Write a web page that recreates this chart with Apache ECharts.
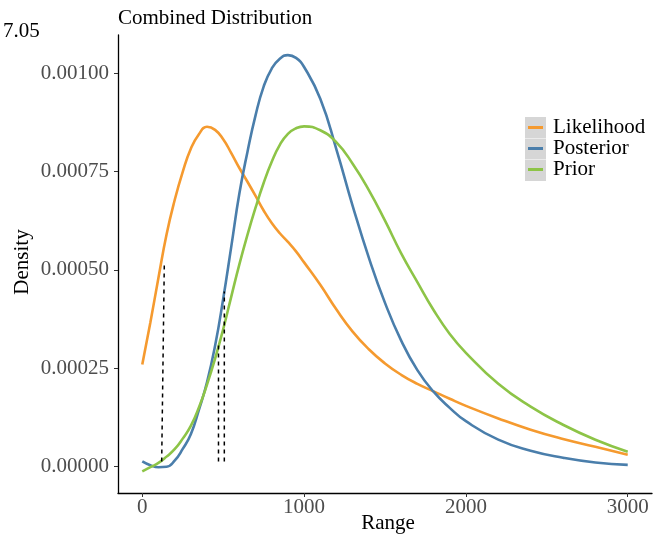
<!DOCTYPE html>
<html>
<head>
<meta charset="utf-8">
<script src="https://cdn.jsdelivr.net/npm/echarts@6/dist/echarts.min.js"></script>
<style>html,body{margin:0;padding:0;background:#fff}#c{width:667px;height:538px}</style>
</head>
<body>
<div id="c"></div>
<script>
const xs = [0,50,100,150,200,250,300,350,400,450,500,550,600,650,700,750,800,850,900,950,1000,
  1100,1200,1300,1400,1500,1600,1700,1800,1900,2000,2200,2400,2600,2800,3000];
const likelihood = [0.000259,0.000366,0.000480,0.000590,0.000677,0.000749,0.000808,0.000845,0.000864,0.000856,0.000832,0.000797,0.000759,0.000724,0.000688,0.000651,0.000619,0.000593,0.000571,0.000547,0.000519,
  0.000462,0.000399,0.000343,0.000298,0.000262,0.000233,0.000210,0.000191,0.000172,0.000154,0.000122,0.0000933,0.0000697,0.0000501,0.0000297];
const posterior = [0.0000127,0.000003,-0.000002,-0.000001,0.0000145,0.0000445,0.0000818,0.000144,0.000214,0.000307,0.000426,0.000559,0.000694,0.000800,0.000893,0.000966,0.001012,0.001037,0.001046,0.001039,0.001016,
  0.000935,0.000806,0.000663,0.000531,0.000416,0.000320,0.000245,0.000190,0.000149,0.000115,0.0000680,0.0000399,0.0000221,0.000010,0.000004];
const prior = [-0.0000127,-0.000002,0.0000089,0.0000249,0.0000437,0.0000707,0.000103,0.000150,0.000208,0.000274,0.000349,0.000432,0.000514,0.000589,0.000658,0.000721,0.000775,0.000818,0.000846,0.000860,0.000865,
  0.000855,0.000824,0.000770,0.000703,0.000625,0.000542,0.000469,0.000398,0.000337,0.000289,0.000210,0.000152,0.000106,0.0000679,0.0000374];
const seriesNames = ['Likelihood','Posterior','Prior'];
const xTicks = [0,1000,2000,3000];
const yTicks = [0,0.00025,0.0005,0.00075,0.001];
const dashBottomX = [120,471,507];
const dashTopX = [136,471,507];
const dashBottomY = [0.0000127,0.0000127,0.0000127];
const dashTopY = [0.000511,0.000314,0.000445];

const colors = ['#F59A2F','#4A7EAB','#8DC447'];
const FONT = 'Liberation Serif';
const FS = 21;
const chart = echarts.init(document.getElementById('c'), null, {renderer:'canvas'});
const curves = [likelihood, posterior, prior];
const series = curves.map((arr, i) => ({
  name: seriesNames[i], type: 'line', smooth: true, showSymbol: false,
  data: xs.map((x, j) => [x, arr[j]]),
  lineStyle: {color: colors[i], width: 2.6}, itemStyle: {color: colors[i]},
  z: 3
}));
dashBottomX.forEach((bx, i) => {
  series.push({
    name: 'cut' + i, type: 'line', showSymbol: false, silent: true,
    data: [[bx, dashBottomY[i]], [dashTopX[i], dashTopY[i]]],
    lineStyle: {color: '#000', width: 1.5, type: [4, 4]}, z: 4
  });
});
chart.setOption({
  animation: false,
  backgroundColor: '#fff',
  title: {text: 'Combined Distribution', left: 118, top: 8, padding: 0,
    textStyle: {fontFamily: FONT, fontSize: FS, fontWeight: 'normal', color: '#000'}},
  grid: {left: 118, right: 15, top: 35, bottom: 45},
  legend: {
    data: seriesNames, orient: 'vertical', left: 528, top: 117,
    icon: 'rect', itemWidth: 15, itemHeight: 3, itemGap: 0, padding: 0,
    textStyle: {fontFamily: FONT, fontSize: FS, color: '#000', lineHeight: 21, padding: [0,0,0,5]}
  },
  xAxis: {type: 'value', min: -150, max: 3150,
    axisLine: {show: true, onZero: false, lineStyle: {color: '#000', width: 1.3}},
    splitLine: {show: false},
    axisTick: {show: true, length: 4, lineStyle: {color: '#333'}, customValues: xTicks},
    axisLabel: {customValues: xTicks, fontFamily: FONT, fontSize: FS, color: '#4D4D4D', margin: 4,
      formatter: v => String(v)}
  },
  yAxis: {type: 'value', min: -0.0000676, max: 0.0010973,
    axisLine: {show: true, onZero: false, lineStyle: {color: '#000', width: 1.3}},
    splitLine: {show: false},
    axisTick: {show: true, length: 4, lineStyle: {color: '#333'}, customValues: yTicks},
    axisLabel: {customValues: yTicks, fontFamily: FONT, fontSize: FS, color: '#4D4D4D', margin: 9,
      formatter: v => v.toFixed(5)}
  },
  graphic: [
    {type: 'rect', left: 525, top: 117, shape: {width: 21, height: 21}, style: {fill: '#D6D6D6'}, z: -1},
    {type: 'rect', left: 525, top: 138.5, shape: {width: 21, height: 21}, style: {fill: '#D6D6D6'}, z: -1},
    {type: 'rect', left: 525, top: 160, shape: {width: 21, height: 21}, style: {fill: '#D6D6D6'}, z: -1},
    {type: 'text', x: 3, y: 31, style: {text: '7.05', fontFamily: FONT, fontSize: FS, fill: '#000', textVerticalAlign: 'middle'}},
    {type: 'text', x: 388, y: 523, style: {text: 'Range', fontFamily: FONT, fontSize: FS, fill: '#000', textAlign: 'center', textVerticalAlign: 'middle'}},
    {type: 'text', x: 22, y: 262, rotation: Math.PI / 2, style: {text: 'Density', fontFamily: FONT, fontSize: FS, fill: '#000', textAlign: 'center', textVerticalAlign: 'middle'}}
  ],
  series: series
});
</script>
</body>
</html>
